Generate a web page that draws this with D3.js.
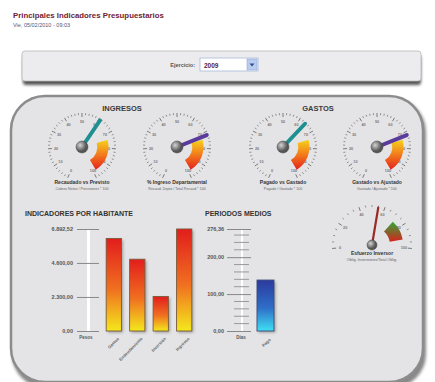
<!DOCTYPE html>
<html>
<head>
<meta charset="utf-8">
<script src="https://d3js.org/d3.v7.min.js"></script>
<style>
body { margin: 0; background: #fff; font-family: "Liberation Sans", Arial, sans-serif; }
svg text { font-family: "Liberation Sans", Arial, sans-serif; }
</style>
</head>
<body>
<script>
// data
var gaugeTitles = ["Recaudado vs Previsto", "% Ingreso Departamental", "Pagado vs Gastado", "Gastado vs Ajustado"];
var gaugeSubs = ["Cobros Netos / Previsiones * 100", "Recaud. Depto / Total Recaud * 100", "Pagado / Gastado * 100", "Gastado / Ajustado * 100"];
var gaugeValues = [61, 72, 64, 72];
var gaugeColors = ["#1f8f8f", "#5a3a9a", "#1f8f8f", "#5a3a9a"];
var habCategories = ["Gastos", "Endeudamiento", "Inversión", "Ingresos"];
var habValues = [6250, 4850, 2330, 6892.52];
var habTicks = [0, 2300, 4600, 6892.52];
var perCategories = ["Pago"];
var perValues = [138];
var perTicks = [0, 100, 200, 276.36];
var esfuerzoValue = 55;

var W = 435, H = 382;
var es = d3.formatLocale({decimal: ",", thousands: ".", grouping: [3], currency: ["", ""]});
var fmt = es.format(",.2f");

var svg = d3.select("body").append("svg").attr("width", W).attr("height", H);
var defs = svg.append("defs");

var gRed = defs.append("linearGradient").attr("id", "gradRed").attr("x1", 0).attr("y1", 0).attr("x2", 0).attr("y2", 1);
gRed.append("stop").attr("offset", "0%").attr("stop-color", "#e21d1d");
gRed.append("stop").attr("offset", "55%").attr("stop-color", "#f07020");
gRed.append("stop").attr("offset", "100%").attr("stop-color", "#f4e81c");

var gBlue = defs.append("linearGradient").attr("id", "gradBlue").attr("x1", 0).attr("y1", 0).attr("x2", 0).attr("y2", 1);
gBlue.append("stop").attr("offset", "0%").attr("stop-color", "#2a3a9e");
gBlue.append("stop").attr("offset", "55%").attr("stop-color", "#2f6fc8");
gBlue.append("stop").attr("offset", "100%").attr("stop-color", "#3fe0f4");

var gBand = defs.append("linearGradient").attr("id", "gradBand").attr("x1", 0).attr("y1", 0).attr("x2", 0).attr("y2", 1);
gBand.append("stop").attr("offset", "0%").attr("stop-color", "#f6d21a");
gBand.append("stop").attr("offset", "50%").attr("stop-color", "#f27a1c");
gBand.append("stop").attr("offset", "100%").attr("stop-color", "#e4221c");

var gEsf = defs.append("linearGradient").attr("id", "gradEsf").attr("x1", 0).attr("y1", 0).attr("x2", 0).attr("y2", 1);
gEsf.append("stop").attr("offset", "0%").attr("stop-color", "#2fa83a");
gEsf.append("stop").attr("offset", "100%").attr("stop-color", "#d8221c");

var hub = defs.append("radialGradient").attr("id", "gradHub").attr("cx", "35%").attr("cy", "35%");
hub.append("stop").attr("offset", "0%").attr("stop-color", "#d4d4d4");
hub.append("stop").attr("offset", "100%").attr("stop-color", "#555");

var blur = defs.append("filter").attr("id", "shadow").attr("x", "-10%").attr("y", "-10%").attr("width", "130%").attr("height", "130%");
blur.append("feGaussianBlur").attr("stdDeviation", 1.5);

// header
svg.append("text").attr("x", 13).attr("y", 18).attr("font-size", 7.8).attr("font-weight", "bold")
  .attr("fill", "#6e2236").text("Principales Indicadores Presupuestarios");
svg.append("text").attr("x", 13).attr("y", 27).attr("font-size", 5.5).attr("fill", "#4a5a7a")
  .text("Vie, 05/02/2010 - 09:03");

// selector panel
svg.append("rect").attr("x", 23).attr("y", 55).attr("width", 398).attr("height", 30).attr("rx", 3)
  .attr("fill", "#555").attr("filter", "url(#shadow)");
svg.append("rect").attr("x", 22).attr("y", 51).attr("width", 399).attr("height", 30).attr("rx", 3)
  .attr("fill", "#ececee").attr("stroke", "#b8b8b8").attr("stroke-width", 0.8);
svg.append("text").attr("x", 195).attr("y", 67).attr("text-anchor", "end").attr("font-size", 5.5)
  .attr("font-weight", "bold").attr("fill", "#555").text("Ejercicio:");
svg.append("rect").attr("x", 200).attr("y", 58).attr("width", 58).attr("height", 13)
  .attr("fill", "#fff").attr("stroke", "#a8b8d8").attr("stroke-width", 0.8);
svg.append("text").attr("x", 204).attr("y", 67.5).attr("font-size", 6.5).attr("font-weight", "bold")
  .attr("fill", "#5a2040").text("2009");
svg.append("rect").attr("x", 247).attr("y", 59).attr("width", 10).attr("height", 11)
  .attr("fill", "#b8cdf0").attr("stroke", "#8aa0d0").attr("stroke-width", 0.5);
svg.append("path").attr("d", "M249.5,63.5 L254.5,63.5 L252,66.5 Z").attr("fill", "#3a4a8a");

// main panel
svg.append("rect").attr("x", 12).attr("y", 98).attr("width", 414).attr("height", 290).attr("rx", 34)
  .attr("fill", "#888").attr("filter", "url(#shadow)");
svg.append("rect").attr("x", 11).attr("y", 96).attr("width", 412).attr("height", 286).attr("rx", 34)
  .attr("fill", "#e4e4e6").attr("stroke", "#8c8c8c").attr("stroke-width", 2.5);

svg.append("text").attr("x", 122).attr("y", 111).attr("text-anchor", "middle").attr("font-size", 7.5)
  .attr("font-weight", "bold").attr("fill", "#3a3a3a").text("INGRESOS");
svg.append("text").attr("x", 318).attr("y", 111).attr("text-anchor", "middle").attr("font-size", 7.5)
  .attr("font-weight", "bold").attr("fill", "#3a3a3a").text("GASTOS");

// round gauges
var gaugeCx = [82, 177, 283, 377];
var gaugeCy = 147;
var angle = d3.scaleLinear().domain([0, 100]).range([-155, 155]);
var rad = function(d) { return d * Math.PI / 180; };

function drawGauge(g, value, needleColor, sc, R, bandFrom, bandTo, bandFill, tickStep, labelStep, needleW, hubR) {
  var ticks = d3.range(sc.domain()[0], sc.domain()[1] + 0.01, tickStep);
  g.selectAll("line.tk").data(ticks).enter().append("line")
    .attr("x1", function(d) { return (R - (d % labelStep === 0 ? 4 : 2)) * Math.sin(rad(sc(d))); })
    .attr("y1", function(d) { return -(R - (d % labelStep === 0 ? 4 : 2)) * Math.cos(rad(sc(d))); })
    .attr("x2", function(d) { return R * Math.sin(rad(sc(d))); })
    .attr("y2", function(d) { return -R * Math.cos(rad(sc(d))); })
    .attr("stroke", "#7a7a7a").attr("stroke-width", function(d) { return d % labelStep === 0 ? 1 : 0.8; });
  g.selectAll("text.lb").data(ticks.filter(function(d) { return d % labelStep === 0; })).enter().append("text")
    .attr("x", function(d) { return (R - 8) * Math.sin(rad(sc(d))); })
    .attr("y", function(d) { return -(R - 8) * Math.cos(rad(sc(d))) + 1.5; })
    .attr("text-anchor", "middle").attr("font-size", 3.8).attr("font-weight", "bold").attr("fill", "#777")
    .text(function(d) { return d; });
  var arc = d3.arc().innerRadius(R * 0.45).outerRadius(R * 0.78)
    .startAngle(rad(sc(bandFrom))).endAngle(rad(sc(bandTo)));
  g.append("path").attr("d", arc()).attr("fill", bandFill);
  var a = rad(sc(value));
  g.append("line").attr("x1", 0).attr("y1", 0)
    .attr("x2", (R - 2) * Math.sin(a)).attr("y2", -(R - 2) * Math.cos(a))
    .attr("stroke", needleColor).attr("stroke-width", needleW).attr("stroke-linecap", "round");
  g.append("circle").attr("r", hubR).attr("fill", "url(#gradHub)").attr("stroke", "#444").attr("stroke-width", 0.5);
}

gaugeValues.forEach(function(v, i) {
  var g = svg.append("g").attr("transform", "translate(" + gaugeCx[i] + "," + gaugeCy + ")");
  drawGauge(g, v, gaugeColors[i], angle, 34, 74, 98, "url(#gradBand)", 2, 10, 4, 6);
  svg.append("text").attr("x", gaugeCx[i]).attr("y", 184).attr("text-anchor", "middle").attr("font-size", 5)
    .attr("font-weight", "bold").attr("fill", "#333").text(gaugeTitles[i]);
  svg.append("text").attr("x", gaugeCx[i]).attr("y", 189.5).attr("text-anchor", "middle").attr("font-size", 3.6)
    .attr("fill", "#666").text(gaugeSubs[i]);
});

// Esfuerzo inversor
var esfAngle = d3.scaleLinear().domain([0, 100]).range([-95, 95]);
var ge = svg.append("g").attr("transform", "translate(372,245)");
drawGauge(ge, esfuerzoValue, "#9a2a2a", esfAngle, 40, 72, 92, "url(#gradEsf)", 5, 20, 2.2, 5);
svg.append("text").attr("x", 372).attr("y", 255).attr("text-anchor", "middle").attr("font-size", 5)
  .attr("font-weight", "bold").attr("fill", "#333").text("Esfuerzo Inversor");
svg.append("text").attr("x", 372).attr("y", 261).attr("text-anchor", "middle").attr("font-size", 3.8)
  .attr("fill", "#666").text("Oblig. Inversiones/Total Oblig.");

// indicadores por habitante
svg.append("text").attr("x", 25).attr("y", 216).attr("font-size", 7).attr("font-weight", "bold")
  .attr("fill", "#333").text("INDICADORES POR HABITANTE");

var yHab = d3.scaleLinear().domain([0, d3.max(habValues)]).range([331, 229]);
var xHab = d3.scaleBand().domain(habCategories).range([105, 193]).paddingInner(0.35).paddingOuter(0.05);

svg.append("rect").attr("x", 87).attr("y", 229).attr("width", 3).attr("height", 102).attr("fill", "#fff");
var habAxis = d3.axisLeft(yHab).tickValues(habTicks).tickFormat(fmt).tickSize(22).tickPadding(4);
svg.append("g").attr("transform", "translate(99,0)").call(habAxis)
  .call(function(g) {
    g.select(".domain").remove();
    g.selectAll(".tick line").attr("stroke", "#888").attr("stroke-width", 1);
    g.selectAll(".tick text").attr("font-size", 5.5).attr("font-weight", "bold").attr("fill", "#555");
  });
svg.append("text").attr("x", 86).attr("y", 339).attr("text-anchor", "middle").attr("font-size", 4.5)
  .attr("font-weight", "bold").attr("fill", "#555").text("Pesos");

svg.selectAll("rect.shHab").data(habValues).enter().append("rect")
  .attr("x", function(d, i) { return xHab(habCategories[i]) + 1.5; })
  .attr("y", function(d) { return yHab(d) + 1.5; })
  .attr("width", xHab.bandwidth()).attr("height", function(d) { return 331 - yHab(d); })
  .attr("fill", "#999").attr("filter", "url(#shadow)");
svg.selectAll("rect.barHab").data(habValues).enter().append("rect")
  .attr("x", function(d, i) { return xHab(habCategories[i]); })
  .attr("y", function(d) { return yHab(d); })
  .attr("width", xHab.bandwidth()).attr("height", function(d) { return 331 - yHab(d); })
  .attr("fill", "url(#gradRed)").attr("stroke", "#7a5a3a").attr("stroke-width", 0.9);
svg.selectAll("text.catHab").data(habCategories).enter().append("text")
  .attr("transform", function(d) { return "translate(" + (xHab(d) + xHab.bandwidth() - 2) + ",339) rotate(-45)"; })
  .attr("text-anchor", "end").attr("font-size", 4.2).attr("font-weight", "bold").attr("fill", "#666")
  .text(function(d) { return d; });

// periodos medios
svg.append("text").attr("x", 205).attr("y", 216).attr("font-size", 7).attr("font-weight", "bold")
  .attr("fill", "#333").text("PERIODOS MEDIOS");

var yPer = d3.scaleLinear().domain([0, perTicks[perTicks.length - 1]]).range([331, 229]);
var xPer = d3.scaleBand().domain(perCategories).range([257, 274]);

svg.append("rect").attr("x", 241).attr("y", 229).attr("width", 2).attr("height", 102).attr("fill", "#fff");
var minor = d3.range(20, 276, 20).filter(function(d) { return d !== 100 && d !== 200; });
svg.selectAll("line.minPer").data(minor).enter().append("line")
  .attr("x1", 234).attr("x2", 249)
  .attr("y1", function(d) { return yPer(d); }).attr("y2", function(d) { return yPer(d); })
  .attr("stroke", "#999").attr("stroke-width", 1);
var perAxis = d3.axisLeft(yPer).tickValues(perTicks).tickFormat(fmt).tickSize(24).tickPadding(3);
svg.append("g").attr("transform", "translate(251,0)").call(perAxis)
  .call(function(g) {
    g.select(".domain").remove();
    g.selectAll(".tick line").attr("stroke", "#888").attr("stroke-width", 1);
    g.selectAll(".tick text").attr("font-size", 5.5).attr("font-weight", "bold").attr("fill", "#555");
  });
svg.append("text").attr("x", 241).attr("y", 339).attr("text-anchor", "middle").attr("font-size", 4.5)
  .attr("font-weight", "bold").attr("fill", "#555").text("Días");

svg.selectAll("rect.shPer").data(perValues).enter().append("rect")
  .attr("x", function(d, i) { return xPer(perCategories[i]) + 1.5; })
  .attr("y", function(d) { return yPer(d) + 1.5; })
  .attr("width", xPer.bandwidth()).attr("height", function(d) { return 331 - yPer(d); })
  .attr("fill", "#999").attr("filter", "url(#shadow)");
svg.selectAll("rect.barPer").data(perValues).enter().append("rect")
  .attr("x", function(d, i) { return xPer(perCategories[i]); })
  .attr("y", function(d) { return yPer(d); })
  .attr("width", xPer.bandwidth()).attr("height", function(d) { return 331 - yPer(d); })
  .attr("fill", "url(#gradBlue)").attr("stroke", "#3a4a7a").attr("stroke-width", 0.9);
svg.selectAll("text.catPer").data(perCategories).enter().append("text")
  .attr("transform", function(d) { return "translate(" + (xPer(d) + xPer.bandwidth() - 3) + ",340) rotate(-45)"; })
  .attr("text-anchor", "end").attr("font-size", 4.2).attr("font-weight", "bold").attr("fill", "#666")
  .text(function(d) { return d; });
</script>
</body>
</html>
